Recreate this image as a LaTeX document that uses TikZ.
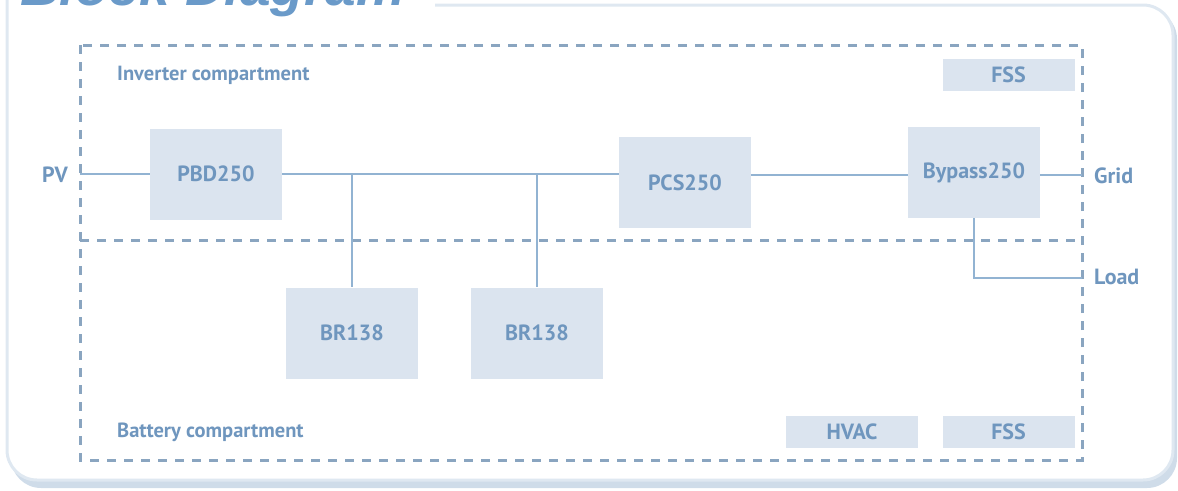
\documentclass[tikz,border=0pt]{standalone}
\usepackage{fontspec}
\setmainfont{PT Sans}
\newfontfamily\titlefont{Liberation Sans}
\usetikzlibrary{calc}
\definecolor{boxfill}{HTML}{DBE4EF}
\definecolor{txt}{HTML}{6F96BE}
\definecolor{wire}{HTML}{92B3D2}
\definecolor{dash}{HTML}{8AA5C0}
\definecolor{frame}{HTML}{DFE8F1}
\definecolor{shadowc}{HTML}{CFDCE9}
\definecolor{titlec}{HTML}{6A9AC9}
\tikzset{
  blk/.style={fill=boxfill, draw=none, minimum width=132pt, minimum height=91pt, inner sep=0pt,
    text=txt, font=\fontsize{22}{25}\selectfont\bfseries},
  smallblk/.style={blk, minimum height=32pt},
  lbl/.style={text=txt, font=\fontsize{22}{25}\selectfont\bfseries, inner sep=0pt},
  comp/.style={text=txt, font=\fontsize{20.5}{23}\selectfont\bfseries, inner sep=0pt},
  wireline/.style={draw=wire, line width=1.7pt},
  dashline/.style={draw=dash, line width=3pt, dash pattern=on 9pt off 8pt},
}
\begin{document}
\begin{tikzpicture}[x=1pt,y=-1pt]
\useasboundingbox (0,0) rectangle (1178,490);
% outer frame
\fill[shadowc, rounded corners=30pt] (11,9) rectangle (1177,488);
\fill[white, rounded corners=30pt] (7,5) rectangle (1173,480);
\draw[frame, line width=3pt, rounded corners=30pt] (435,5) -- (1173,5) -- (1173,480) -- (7,480) -- (7,-60);
\node[anchor=base west, inner sep=0pt, text=titlec, font=\titlefont\fontsize{55}{60}\selectfont\bfseries\itshape] (title) at (20,5) {Block Diagram};
% compartments
\draw[dashline] (80,45) rectangle (1082,460);
\draw[dashline] (80,240) -- (1082,240);
\node[comp, anchor=base west] (inv) at (117,80) {Inverter compartment};
\node[comp, anchor=base west] (bat) at (117,437) {Battery compartment};
% blocks
\node[blk] (pbd) at (216,174) {PBD250};
\node[blk] (pcs) at (685,182.5) {PCS250};
\node[blk] (byp) at (974,172.5) {Bypass250};
\node[blk] (br1) at (352,333) {BR138};
\node[blk] (br2) at (537,333) {BR138};
\node[smallblk] (fss1) at (1008.5,75) {FSS};
\node[smallblk] (hvac) at (852,431.5) {HVAC};
\node[smallblk] (fss2) at (1008.5,431.5) {FSS};
% terminals
\node[lbl, anchor=east] (pv) at (68,175) {PV};
\node[lbl, anchor=west] (grid) at (1094,176) {Grid};
\node[lbl, anchor=west] (load) at (1094,277) {Load};
\coordinate (pvpt) at (80,174);
\coordinate (busR) at (0,175);
\coordinate (gridpt) at (1082,175);
\coordinate (loadpt) at (1082,278);
% wires
\draw[wireline] (pvpt) -- (pbd.west |- pvpt);
\draw[wireline] (pbd.east) -- (pbd.east -| pcs.west);
\draw[wireline] (pcs.east |- busR) -- (byp.west |- busR);
\draw[wireline] (byp.east |- gridpt) -- (gridpt);
\draw[wireline] (br1.north |- pbd.east) -- (br1.north);
\draw[wireline] (br2.north |- pbd.east) -- (br2.north);
\draw[wireline] (byp.south) -- (byp.south |- loadpt) -- (loadpt);
\end{tikzpicture}
\end{document}
